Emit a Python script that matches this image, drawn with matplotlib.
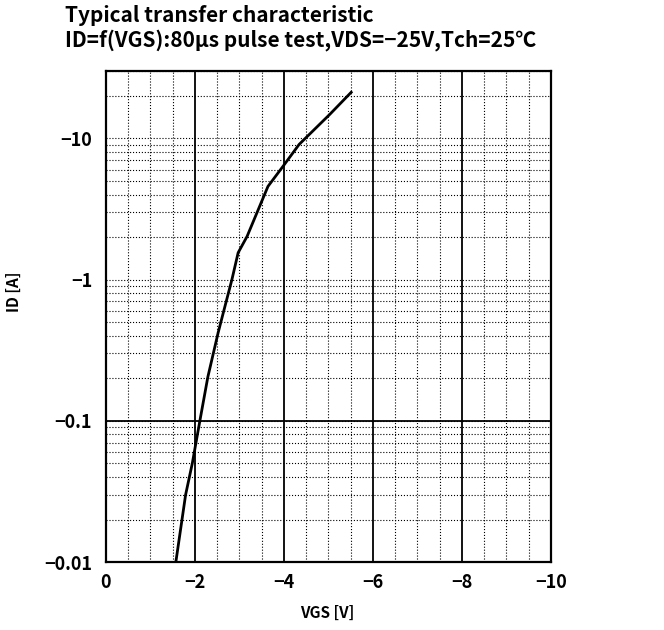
import numpy as np
import matplotlib.pyplot as plt
from matplotlib.ticker import MultipleLocator, LogLocator, NullFormatter

plt.rcParams['font.family'] = ['Noto Sans CJK JP', 'DejaVu Sans']

# data
vgs = [-1.57, -1.79, -1.94, -2.11, -2.29, -2.52, -2.67, -2.83, -2.97, -3.17, -3.64, -3.98, -4.34, -5.03, -5.51]
id_a = [-0.01, -0.03, -0.05, -0.1, -0.205, -0.42, -0.64, -1.0, -1.55, -2.02, -4.57, -6.35, -9.06, -14.8, -21.2]

x_ticks = [0, -2, -4, -6, -8, -10]
x_labels = ['0', '\u22122', '\u22124', '\u22126', '\u22128', '\u221210']
y_ticks = [0.01, 0.1, 1, 10]
y_labels = ['\u22120.01', '\u22120.1', '\u22121', '\u221210']

fig = plt.figure(figsize=(6.64, 6.3), dpi=100)
ax = fig.add_axes([0.1596, 0.1079, 0.6702, 0.7794])

ax.plot(vgs, np.abs(id_a), color='black', lw=2)

ax.set_yscale('log')
ax.set_xlim(0, -10)
ax.set_ylim(0.01, 30)

ax.set_xticks(x_ticks)
ax.set_xticklabels(x_labels, fontsize=13, fontweight='bold')
ax.xaxis.set_minor_locator(MultipleLocator(0.5))
ax.set_yticks(y_ticks)
ax.set_yticklabels(y_labels, fontsize=13, fontweight='bold')
ax.yaxis.set_minor_locator(LogLocator(base=10, subs=np.arange(2, 10)))
ax.yaxis.set_minor_formatter(NullFormatter())
ax.tick_params(which='both', length=0)
ax.tick_params(axis='x', pad=8)
ax.tick_params(axis='y', pad=10)

# grid: solid every 2 V, dotted elsewhere
ax.grid(True, axis='x', which='major', color='black', lw=1.3, ls='-')
ax.grid(True, axis='x', which='minor', color='black', lw=0.8, ls=':')
ax.grid(True, axis='y', which='both', color='black', lw=0.8, ls=':')
ax.axhline(0.1, color='black', lw=1.3)

for s in ax.spines.values():
    s.set_linewidth(1.6)

ax.set_xlabel('VGS [V]', fontsize=11, fontweight='bold')
ax.xaxis.set_label_coords(0.497, -0.088)
ax.set_ylabel('ID [A]', fontsize=11, fontweight='bold')
ax.yaxis.set_label_coords(-0.19, 0.55)

fig.text(0.098, 0.992, 'Typical transfer characteristic\nID=f(VGS):80\u03bcs pulse test,VDS=\u221225V,Tch=25\u2103',
         fontsize=15, fontweight='bold', va='top', ha='left', linespacing=1.15)

fig.savefig('out.png', dpi=100)
